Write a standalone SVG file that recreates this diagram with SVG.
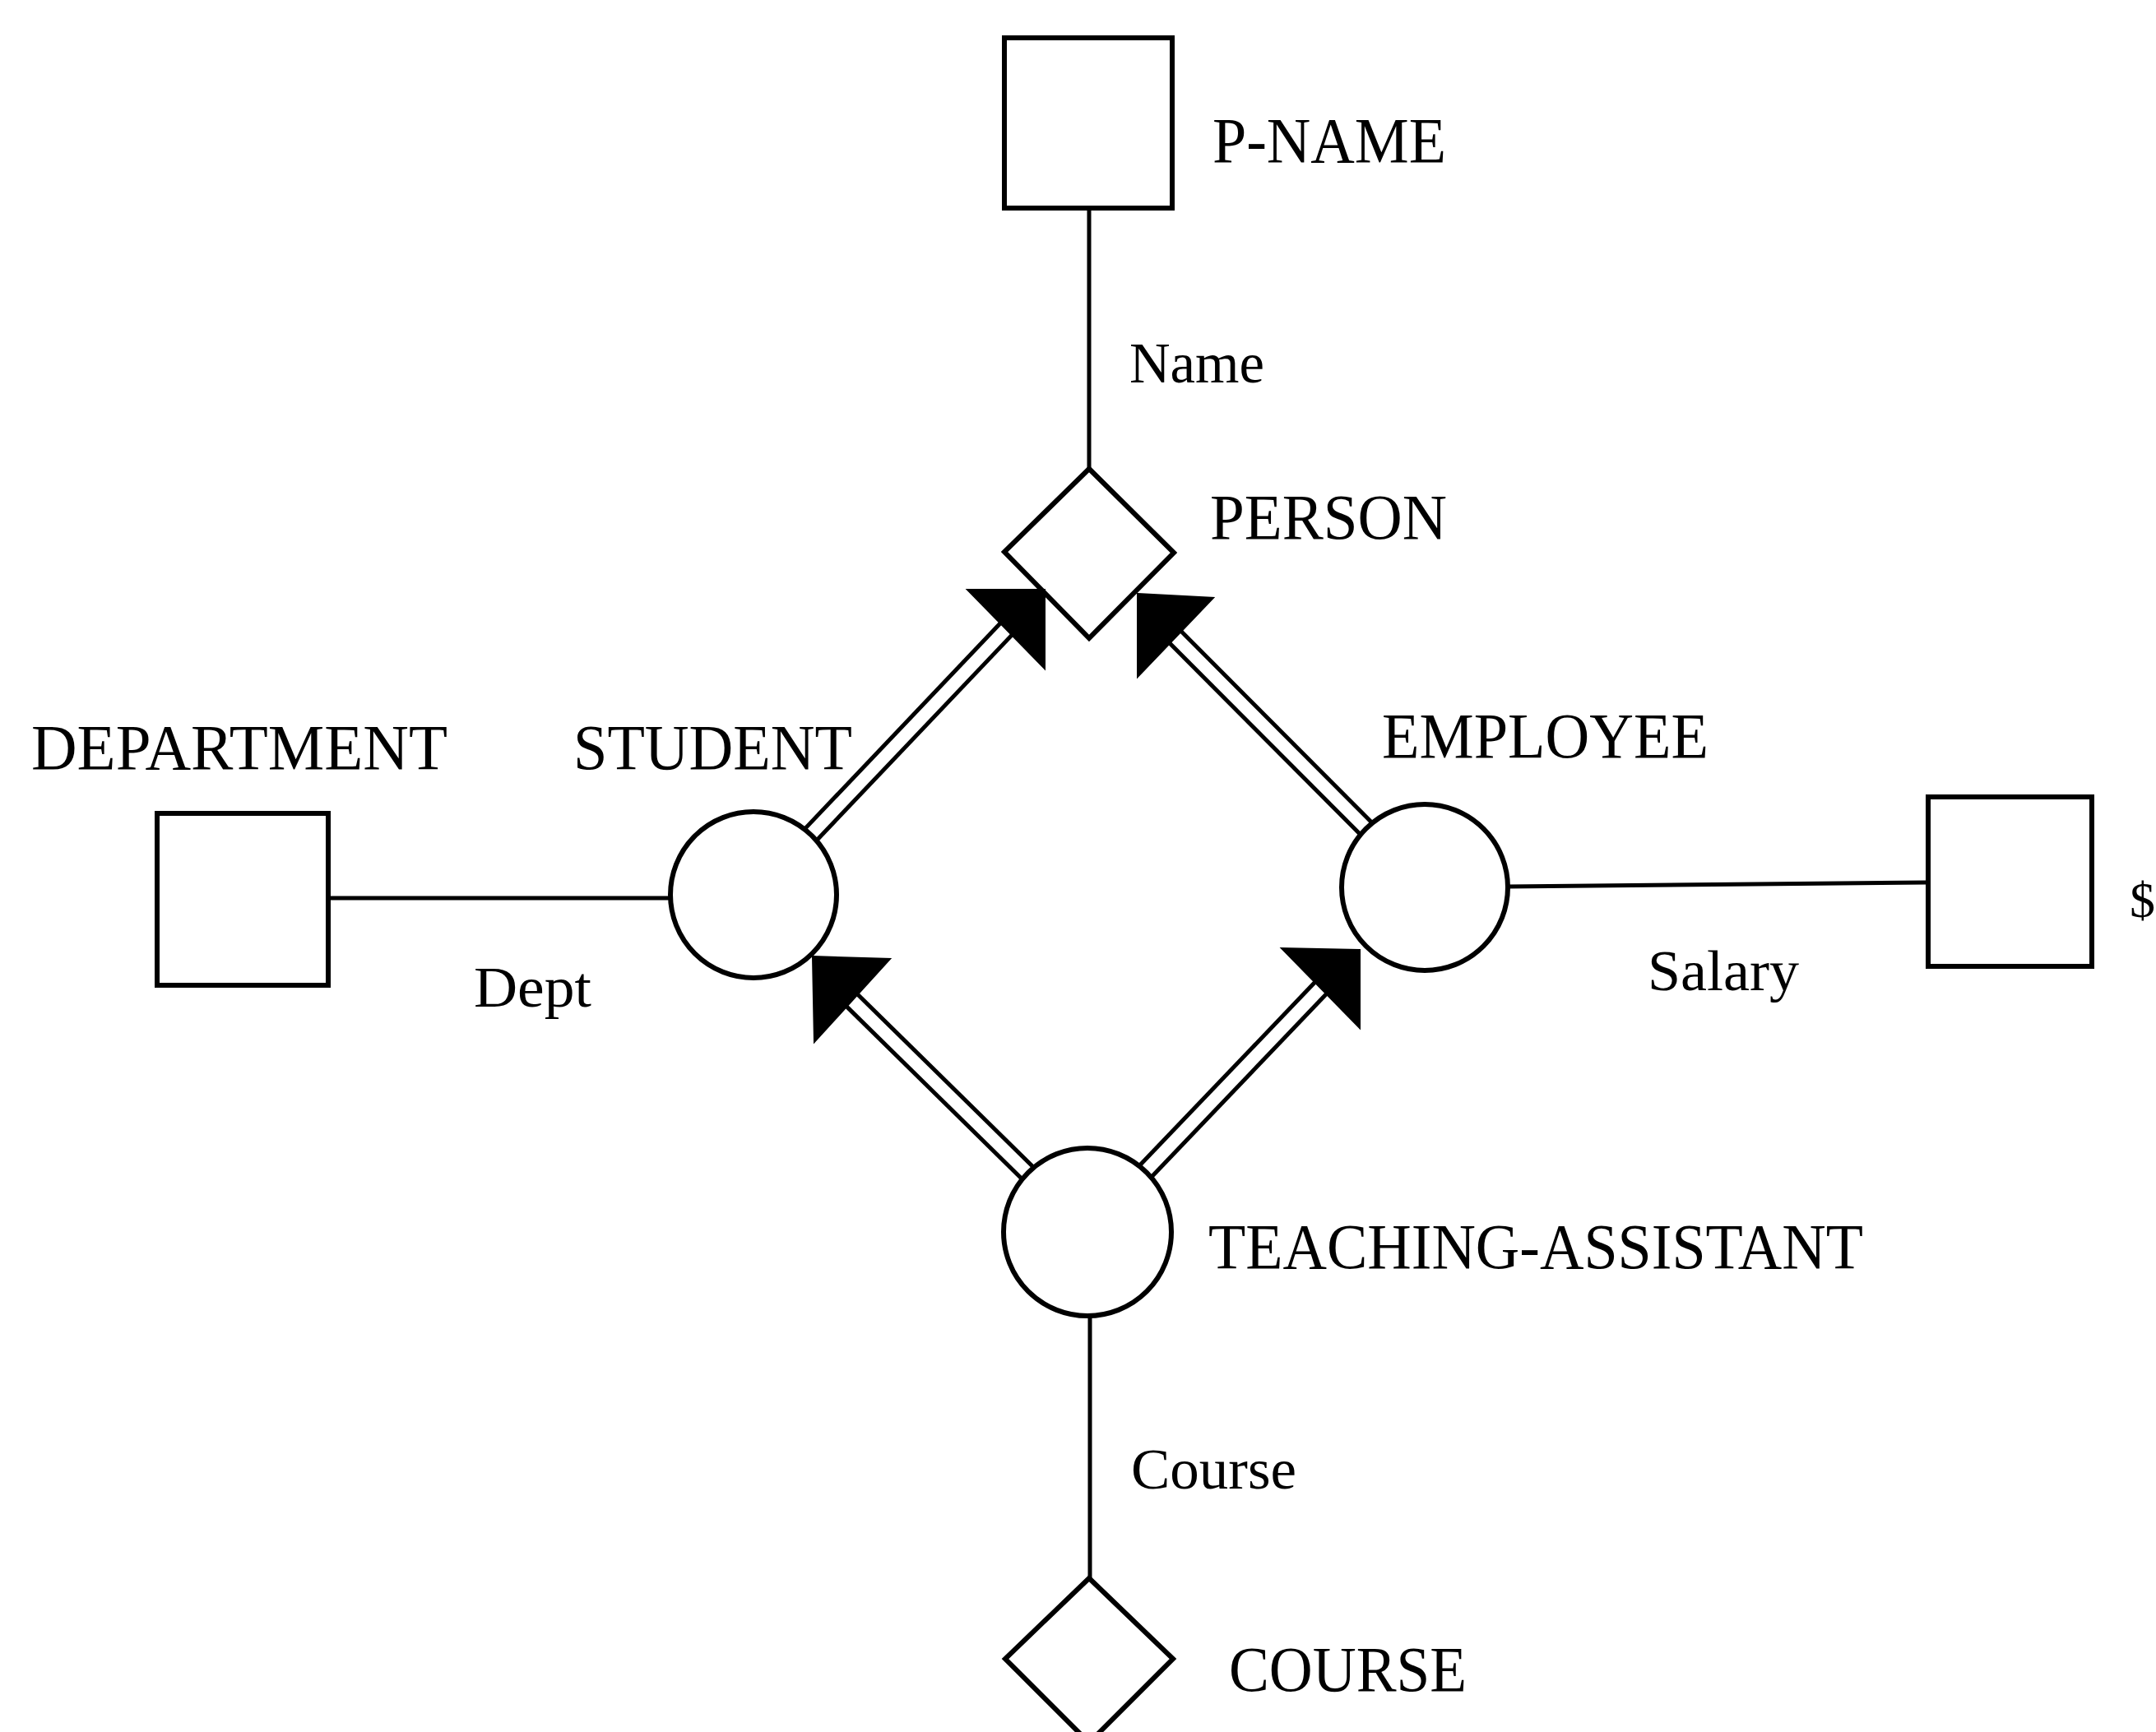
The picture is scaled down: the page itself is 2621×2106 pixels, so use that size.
<svg xmlns="http://www.w3.org/2000/svg" width="2621" height="2106" viewBox="0 0 2621 2106">
  <style>
    .shape { fill: #ffffff; stroke: #000000; stroke-width: 6; }
    .line { stroke: #000000; stroke-width: 5; fill: none; }
    .rail { stroke: #000000; stroke-width: 5; fill: none; stroke-linecap: butt; }
    .head { fill: #000000; stroke: #000000; stroke-width: 2; stroke-linejoin: miter; }
    .label { font-family: "Liberation Serif", "Times New Roman", serif; font-size: 78px; fill: #000000; }
    .role { font-family: "Liberation Serif", "Times New Roman", serif; font-size: 70px; fill: #000000; }
    .unit { font-family: "Liberation Serif", "Times New Roman", serif; font-size: 62px; fill: #000000; }
  </style>
  <rect width="2621" height="2106" fill="#ffffff"/>

  <!-- entity and relationship nodes -->
  <g id="p-name">
    <rect class="shape" x="1221" y="46" width="204" height="207"/>
    <text class="label" x="1474" y="197" textLength="284" lengthAdjust="spacingAndGlyphs">P-NAME</text>
  </g>
  <g id="person">
    <polygon class="shape" points="1324,570 1427,672 1324,776 1221,671"/>
    <text class="label" x="1471" y="655" textLength="288" lengthAdjust="spacingAndGlyphs">PERSON</text>
  </g>
  <g id="department">
    <rect class="shape" x="191" y="989" width="208" height="209"/>
    <text class="label" x="38" y="935" textLength="506" lengthAdjust="spacingAndGlyphs">DEPARTMENT</text>
  </g>
  <g id="student">
    <circle class="shape" cx="916" cy="1088" r="101"/>
    <text class="label" x="697" y="935" textLength="339" lengthAdjust="spacingAndGlyphs">STUDENT</text>
  </g>
  <g id="employee">
    <circle class="shape" cx="1732" cy="1079" r="101"/>
    <text class="label" x="1680" y="921" textLength="397" lengthAdjust="spacingAndGlyphs">EMPLOYEE</text>
  </g>
  <g id="dollar">
    <rect class="shape" x="2344" y="969" width="199" height="206"/>
    <text class="unit" x="2589" y="1115">$</text>
  </g>
  <g id="teaching-assistant">
    <circle class="shape" cx="1322" cy="1498" r="102"/>
    <text class="label" x="1469" y="1542" textLength="796" lengthAdjust="spacingAndGlyphs">TEACHING-ASSISTANT</text>
  </g>
  <g id="course">
    <polygon class="shape" points="1324,1919 1426,2017 1324,2119 1222,2017"/>
    <text class="label" x="1494" y="2056" textLength="289" lengthAdjust="spacingAndGlyphs">COURSE</text>
  </g>

  <!-- connectors: attribute links and double-rail is-a arrows -->
  <g id="connectors">
    <line class="line" x1="1324" y1="254" x2="1324" y2="570"/>
    <text class="role" x="1373" y="465" textLength="164" lengthAdjust="spacingAndGlyphs">Name</text>

    <line class="line" x1="401" y1="1092" x2="815" y2="1092"/>
    <text class="role" x="576" y="1224" textLength="143" lengthAdjust="spacingAndGlyphs">Dept</text>

    <line class="line" x1="1833" y1="1078" x2="2342" y2="1073"/>
    <text class="role" x="2003" y="1204" textLength="184" lengthAdjust="spacingAndGlyphs">Salary</text>

    <line class="line" x1="1325" y1="1600" x2="1325" y2="1920"/>
    <text class="role" x="1375" y="1810" textLength="201" lengthAdjust="spacingAndGlyphs">Course</text>

    <!-- STUDENT is-a PERSON -->
    <g id="student-person">
      <line class="rail" x1="978.4" y1="1007.9" x2="1219.9" y2="753.8"/>
      <line class="rail" x1="992.9" y1="1021.7" x2="1234.4" y2="767.6"/>
      <polygon class="head" points="1270,717 1176,717 1270,813"/>
    </g>
    <!-- EMPLOYEE is-a PERSON -->
    <g id="employee-person">
      <line class="rail" x1="1667.8" y1="1000.3" x2="1431.9" y2="763.6"/>
      <line class="rail" x1="1653.6" y1="1014.5" x2="1417.7" y2="777.8"/>
      <polygon class="head" points="1383,722 1475,727 1383,823"/>
    </g>
    <!-- TEACHING-ASSISTANT is-a STUDENT -->
    <g id="ta-student">
      <line class="rail" x1="1257.1" y1="1420.0" x2="1038.7" y2="1205.2"/>
      <line class="rail" x1="1243.1" y1="1434.2" x2="1024.7" y2="1219.4"/>
      <polygon class="head" points="988,1163 1082,1166 990,1267"/>
    </g>
    <!-- TEACHING-ASSISTANT is-a EMPLOYEE -->
    <g id="ta-employee">
      <line class="rail" x1="1384.6" y1="1418.1" x2="1602.4" y2="1190.3"/>
      <line class="rail" x1="1399.0" y1="1431.9" x2="1616.8" y2="1204.1"/>
      <polygon class="head" points="1653,1155 1558,1153 1653,1250"/>
    </g>
  </g>
</svg>
